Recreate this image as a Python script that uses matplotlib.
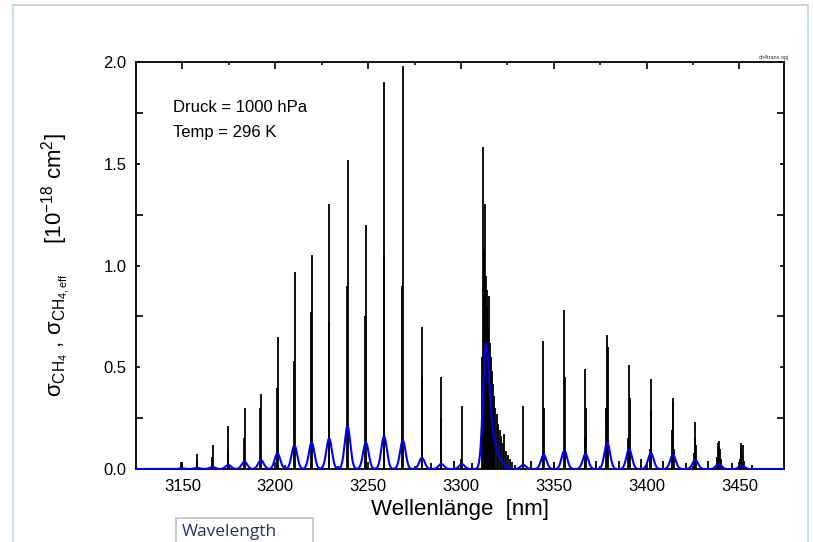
import numpy as np
import matplotlib
matplotlib.use("Agg")
import matplotlib.pyplot as plt
from matplotlib.lines import Line2D
from matplotlib.patches import Rectangle

plt.rcParams['font.family'] = ['Liberation Sans', 'DejaVu Sans']
plt.rcParams['mathtext.fontset'] = 'custom'
plt.rcParams['mathtext.rm'] = 'Liberation Sans'
plt.rcParams['mathtext.it'] = 'Liberation Sans:italic'

# ---- data: individual absorption lines (black), wavelength [nm], cross section [1e-18 cm2]
line_wl = [3149.3, 3149.9, 3157.6, 3158.1, 3165.9, 3166.3, 3174.4, 3174.8, 3183.1, 3183.5,
           3192.0, 3192.4, 3200.9, 3201.3, 3210.0, 3210.4, 3219.3, 3219.7, 3228.7, 3229.1,
           3238.6, 3239.0, 3248.5, 3248.9, 3258.3, 3258.7, 3268.4, 3268.8, 3278.8, 3279.1,
           3289.2, 3289.5, 3300.3, 3300.6,
           3311.6, 3311.9, 3312.3, 3312.7, 3313.0, 3313.4, 3313.8, 3314.2, 3314.6, 3315.0,
           3315.5, 3316.0, 3316.6, 3317.2, 3317.9, 3318.6, 3319.3, 3320.0, 3320.8, 3321.6,
           3322.5, 3323.4, 3324.3, 3325.3, 3326.4, 3327.6, 3329.0,
           3333.3, 3333.6, 3344.4, 3344.8, 3355.6, 3355.9, 3366.7, 3367.0, 3367.3,
           3378.4, 3378.7, 3379.0, 3390.2, 3390.5, 3390.8, 3401.9, 3402.2, 3402.5,
           3413.7, 3414.0, 3414.3, 3414.7, 3425.5, 3425.9, 3426.3, 3426.7,
           3437.8, 3438.3, 3438.8, 3439.3, 3439.9, 3450.1, 3450.6, 3451.1, 3451.7, 3452.3,
           3205.5, 3234.0, 3284.0, 3296.0, 3306.0, 3338.0, 3350.0, 3373.0, 3385.0, 3397.0,
           3409.0, 3421.0, 3433.0, 3446.0, 3457.0]
line_val = [0.035, 0.030, 0.075, 0.040, 0.060, 0.120, 0.100, 0.210, 0.150, 0.300,
            0.300, 0.370, 0.400, 0.650, 0.530, 0.970, 0.770, 1.050, 0.720, 1.300,
            0.900, 1.520, 0.750, 1.200, 1.050, 1.900, 0.900, 1.980, 0.450, 0.700,
            0.250, 0.450, 0.050, 0.310,
            0.550, 1.580, 1.080, 0.900, 1.300, 0.950, 0.800, 0.880, 0.700, 0.850,
            0.620, 0.550, 0.480, 0.420, 0.360, 0.300, 0.270, 0.220, 0.190, 0.160,
            0.130, 0.170, 0.090, 0.070, 0.050, 0.035, 0.020,
            0.030, 0.310, 0.630, 0.300, 0.780, 0.450, 0.150, 0.490, 0.300,
            0.300, 0.660, 0.600, 0.150, 0.510, 0.350, 0.100, 0.440, 0.290,
            0.190, 0.350, 0.330, 0.100, 0.080, 0.230, 0.150, 0.120,
            0.060, 0.130, 0.140, 0.100, 0.050, 0.050, 0.130, 0.100, 0.120, 0.040,
            0.020, 0.015, 0.030, 0.040, 0.030, 0.040, 0.030, 0.040, 0.040, 0.050,
            0.040, 0.030, 0.040, 0.030, 0.020]

# ---- data: effective (instrument-smoothed) cross section (blue), band centres and peak values
eff_wl = [3149.6, 3157.8, 3166.2, 3174.7, 3183.4, 3192.3, 3201.2, 3210.3, 3219.6, 3229.0,
          3238.9, 3248.8, 3258.6, 3268.7, 3279.0, 3289.4, 3300.5,
          3313.3, 3315.8, 3318.8, 3322.0,
          3333.6, 3344.6, 3355.7, 3367.1, 3378.8, 3390.6, 3402.3, 3414.2, 3426.2, 3438.8, 3451.2]
eff_val = [0.003, 0.006, 0.010, 0.020, 0.036, 0.044, 0.077, 0.116, 0.130, 0.150,
           0.210, 0.130, 0.160, 0.140, 0.055, 0.025, 0.024,
           0.560, 0.200, 0.080, 0.030,
           0.020, 0.070, 0.090, 0.074, 0.130, 0.098, 0.078, 0.070, 0.045, 0.025, 0.017]
eff_sigma = 1.5  # instrument width [nm]

x_ticks = [3150, 3200, 3250, 3300, 3350, 3400, 3450]
y_ticks = [0.0, 0.5, 1.0, 1.5, 2.0]

# ---- figure
W, H = 813, 542
fig = plt.figure(figsize=(W / 100, H / 100), dpi=100)
fig.patch.set_facecolor('white')

L, R, T, B = 136, 784, 62, 469
ax = fig.add_axes([L / W, 1 - B / H, (R - L) / W, (B - T) / H])

ax.vlines(line_wl, 0, line_val, colors='black', lw=1.3, zorder=2)

grid = np.linspace(3125, 3474, 4000)
c = np.asarray(eff_wl)[:, None]
h = np.asarray(eff_val)[:, None]
eff_curve = (h * np.exp(-0.5 * ((grid[None, :] - c) / eff_sigma) ** 2)).sum(axis=0)
ax.plot(grid, eff_curve, color='#0000ff', lw=1.5, zorder=3)

ax.set_xlim(3125, 3474)
ax.set_ylim(0, 2.0)
ax.set_xticks(x_ticks)
ax.set_xticklabels([str(v) for v in x_ticks])
ax.set_yticks(y_ticks)
ax.set_yticklabels([f"{v:.1f}" for v in y_ticks])
ax.set_xticks(np.arange(3125, 3475, 25), minor=True)
ax.set_yticks(np.arange(0, 2.01, 0.25), minor=True)
ax.tick_params(which='both', direction='in', top=True, right=True, width=1.2,
               labelsize=12, pad=7, colors='black')
ax.tick_params(axis='x', which='major', length=5)
ax.tick_params(axis='x', which='minor', length=2.5)
ax.tick_params(axis='y', which='major', length=3)
ax.tick_params(axis='y', which='minor', length=5)
for s in ax.spines.values():
    s.set_linewidth(1.3)
    s.set_color('black')

ax.set_xlabel('Wellenlänge  [nm]', fontsize=16, labelpad=4)

fig.text(56 / W, 1 - 265 / H,
         'σ$_{\\mathrm{CH}_4}$ , σ$_{\\mathrm{CH}_{4,\\mathrm{eff}}}$     [10$^{-18}$ cm$^2$]',
         rotation=90, fontsize=16, ha='center', va='center')

ax.text(173 / W, 1 - 107 / H, 'Druck = 1000 hPa', transform=fig.transFigure,
        fontsize=12, ha='left', va='center')
ax.text(173 / W, 1 - 132 / H, 'Temp = 296 K', transform=fig.transFigure,
        fontsize=12, ha='left', va='center')
fig.text(789 / W, 1 - 57 / H, 'ch4trans.opj', fontsize=4, ha='right', va='center',
         color='#333333')

# outer frame of the embedded object
fig.add_artist(Line2D([13 / W, 808 / W], [1 - 5 / H, 1 - 5 / H], color='#d4d4d4', lw=1.5,
                      transform=fig.transFigure))
fig.add_artist(Line2D([13 / W, 13 / W], [0, 1 - 5 / H], color='#c9dcea', lw=1.5,
                      transform=fig.transFigure))
fig.add_artist(Line2D([808 / W, 808 / W], [0, 1 - 5 / H], color='#c9dcea', lw=1.5,
                      transform=fig.transFigure))

# caption box
fig.add_artist(Rectangle((176 / W, -0.02), (313 - 176) / W, 0.02 + (542 - 518) / H,
                         transform=fig.transFigure, facecolor='white',
                         edgecolor='#cccccc', lw=1.5))
fig.text(182 / W, 1 - 532 / H, 'Wavelength', fontsize=12.5, color='#1f3864',
         family=['Open Sans', 'DejaVu Sans'], ha='left', va='center')

fig.savefig('out.png', dpi=100)
